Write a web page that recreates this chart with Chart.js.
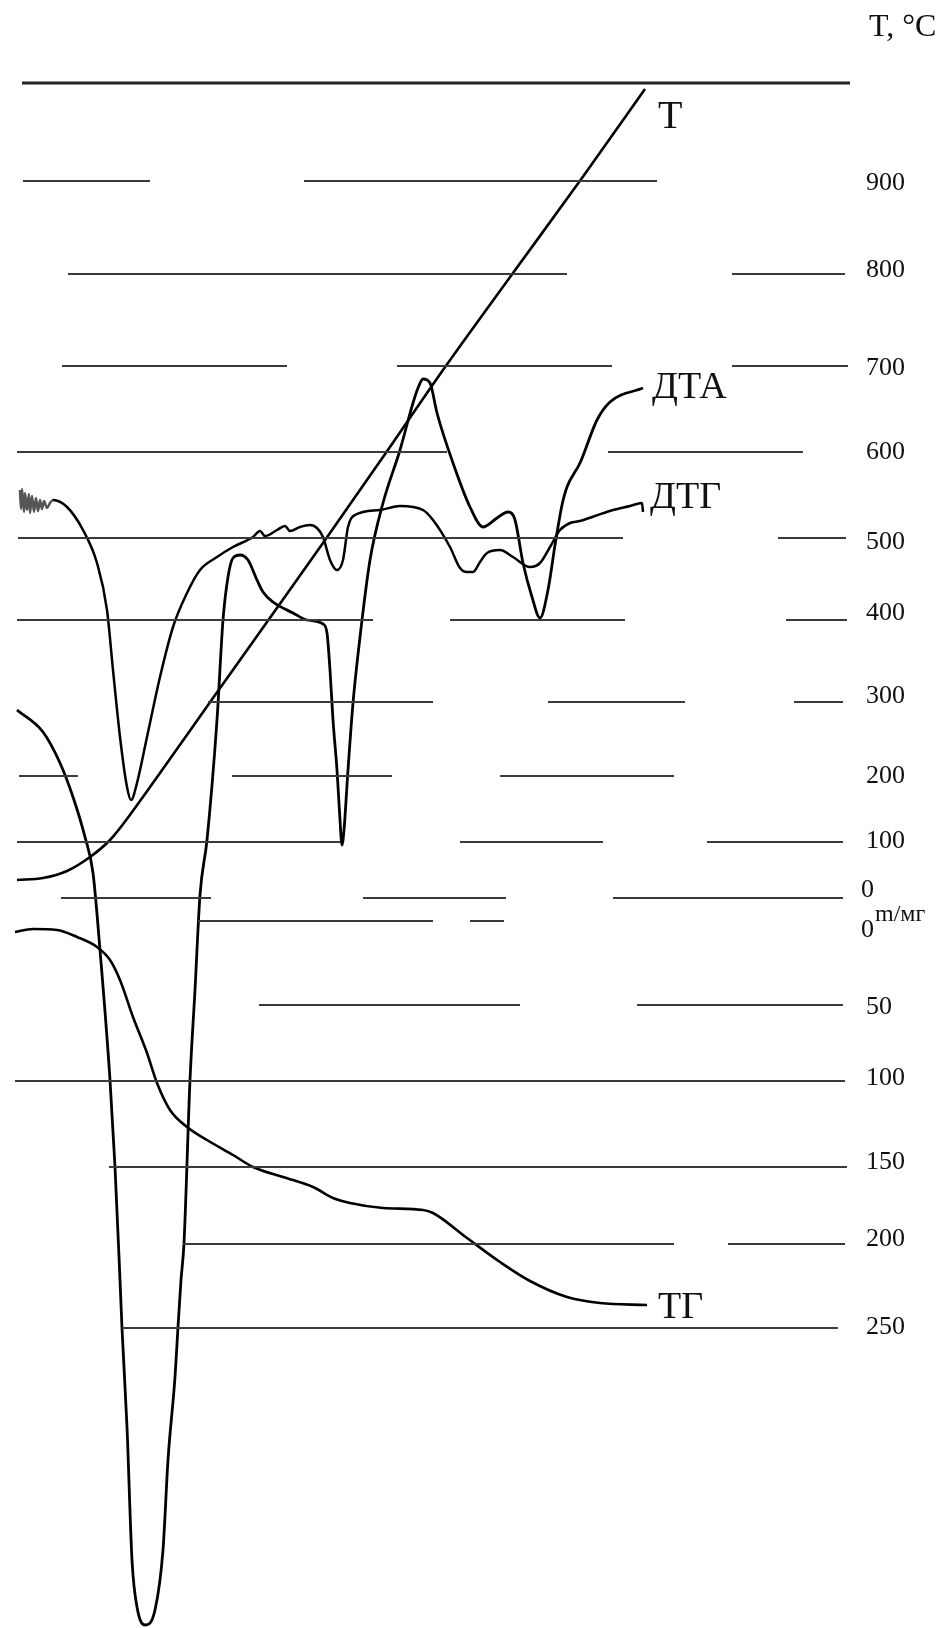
<!DOCTYPE html>
<html>
<head>
<meta charset="utf-8">
<script src="https://cdn.jsdelivr.net/npm/chart.js@4.4.1/dist/chart.umd.min.js"></script>
<style>
    html, body { margin: 0; padding: 0; background: #fff; }
    #wrap { width: 938px; height: 1628px; position: relative; }
</style>
</head>
<body>
<div id="wrap"><canvas id="thermoChart"></canvas></div>
<script>
// chart units: x and y in "cm" of the chart sheet, y measured downward
const tempCurve = [
    [1.7, 88.0], [4.3, 87.8], [6.7, 87.1], [9.0, 85.7], [11.0, 84.0], [13.5, 80.8], [16.0, 77.3],
    [21.3, 69.8], [26.7, 62.2], [32.3, 54.3], [38.3, 45.7], [44.3, 37.0], [51.3, 27.3], [58.2, 17.8], [64.5, 8.9]
]
const dtaCurve = [
    [1.7, 71.0], [4.3, 73.2], [6.0, 76.3], [7.3, 79.7], [8.5, 83.7], [9.3, 87.3], [10.0, 95.0], [11.0, 108.0],
    [11.5, 116.7], [12.0, 128.0], [12.2, 132.8], [12.7, 142.7], [13.2, 156.0], [13.7, 160.7], [14.5, 162.5],
    [15.5, 161.0], [16.3, 155.0], [16.8, 146.0], [17.5, 137.7], [17.8, 132.7], [18.1, 128.0], [18.4, 124.3],
    [19.0, 108.0], [19.5, 99.0], [20.0, 89.5], [20.7, 84.0], [21.7, 72.0], [22.3, 62.0], [22.8, 57.7],
    [23.3, 55.8], [24.0, 55.5], [24.8, 56.0], [25.7, 58.0], [26.3, 59.2], [27.3, 60.2], [29.3, 61.3],
    [30.7, 62.0], [32.3, 62.4], [32.7, 63.3], [33.0, 67.0], [33.3, 72.0], [33.7, 77.0], [34.0, 82.0],
    [34.2, 84.5], [34.4, 83.0], [34.8, 77.0], [35.3, 70.3], [36.0, 63.7], [37.0, 56.0], [38.3, 50.3],
    [40.0, 45.0], [41.3, 40.3], [41.8, 38.8], [42.3, 37.9], [43.0, 38.3], [43.7, 41.3], [45.3, 46.3],
    [47.0, 50.7], [48.3, 52.7], [49.7, 51.8], [50.8, 51.2], [51.5, 52.0], [52.3, 56.3], [53.2, 59.7],
    [54.0, 61.8], [54.8, 59.0], [55.5, 54.5], [55.8, 52.7], [56.2, 50.5], [56.7, 48.7], [58.0, 46.3],
    [59.7, 42.0], [61.0, 40.2], [64.3, 38.8]
]
const dtgCurve = [
    [2.0, 49.0], [2.1, 50.9], [2.2, 48.9], [2.4, 51.2], [2.5, 49.3], [2.7, 51.0], [2.9, 49.4], [3.0, 51.3],
    [3.2, 49.6], [3.4, 51.2], [3.6, 49.8], [3.8, 51.1], [4.0, 50.0], [4.2, 50.9], [4.4, 50.1], [4.7, 50.8],
    [5.0, 50.3], [5.3, 50.0], [6.7, 50.7], [8.3, 53.0], [9.7, 56.3],
    [10.7, 61.0], [11.3, 67.0], [12.0, 73.7], [12.7, 78.7], [13.1, 80.0], [13.7, 78.3], [14.7, 73.7],
    [16.0, 67.7], [17.3, 62.7], [18.7, 59.3], [20.0, 57.0], [21.7, 55.7], [23.3, 54.7], [25.3, 53.7],
    [26.0, 53.1], [26.5, 53.6], [27.7, 53.0], [28.5, 52.6], [29.0, 53.1], [30.0, 52.7], [31.0, 52.5],
    [31.7, 52.8], [32.3, 53.7], [33.0, 56.0], [33.7, 57.0], [34.3, 56.0], [34.8, 52.7], [35.5, 51.5],
    [38.0, 51.0], [40.0, 50.6], [42.3, 51.0], [43.3, 52.0], [45.0, 54.7], [46.0, 56.8], [46.7, 57.2],
    [47.3, 57.2], [48.0, 56.2], [48.7, 55.3], [50.0, 55.0], [51.3, 55.7], [53.0, 56.7], [54.0, 56.3],
    [55.0, 54.7], [56.0, 53.0], [57.0, 52.3], [58.0, 52.1], [59.5, 51.6], [61.3, 51.0], [63.0, 50.6],
    [64.2, 50.3], [64.3, 51.2]
]
const tgCurve = [
    [1.5, 93.2], [3.3, 92.9], [5.7, 93.0], [7.7, 93.7], [9.7, 94.7], [11.0, 96.0], [12.0, 98.0],
    [13.3, 101.7], [14.7, 105.3], [15.7, 108.3], [17.0, 111.0], [18.7, 112.7], [20.7, 114.0],
    [23.3, 115.5], [25.3, 116.7], [28.3, 117.7], [31.3, 118.7], [33.3, 119.8], [35.0, 120.3],
    [38.3, 120.8], [42.3, 121.0], [43.3, 121.3], [46.7, 123.8], [50.0, 126.2], [53.0, 128.1],
    [56.7, 129.7], [60.0, 130.3], [64.7, 130.5]
]
// broken grid rows: level and its segments
const gridLevels = [8.3, 18.1, 27.4, 36.6, 45.2, 53.8, 62.0, 70.2, 77.6, 84.2, 89.8, 92.1, 100.5, 108.1, 116.7, 124.4, 132.8]
const gridSegments = [
    [[2.2, 85.0]],
    [[2.3, 15.0], [30.4, 65.7]],
    [[6.8, 56.7], [73.2, 84.5]],
    [[6.2, 28.7], [39.7, 61.2], [73.2, 84.8]],
    [[1.7, 44.7], [60.8, 80.3]],
    [[1.8, 62.3], [77.8, 84.6]],
    [[1.7, 37.3], [45.0, 62.5], [78.6, 84.7]],
    [[20.8, 43.3], [54.8, 68.5], [79.4, 84.3]],
    [[1.9, 7.8], [23.2, 39.2], [50.0, 67.4]],
    [[1.7, 34.0], [46.0, 60.3], [70.7, 84.3]],
    [[6.1, 21.1], [36.3, 50.6], [61.3, 84.3]],
    [[19.8, 43.3], [47.0, 50.4]],
    [[25.9, 52.0], [63.7, 84.3]],
    [[1.5, 84.5]],
    [[10.9, 84.7]],
    [[18.3, 67.4], [72.8, 84.5]],
    [[12.2, 83.8]]
]
// right-hand scales
const tempTickLabels = [`900`, `800`, `700`, `600`, `500`, `400`, `300`, `200`, `100`, `0`]
const tempTickLevels = [18.3, 27.0, 36.8, 45.2, 54.2, 61.3, 69.6, 77.6, 84.1, 89.0]
const massTickLabels = [`0`, `50`, `100`, `150`, `200`, `250`]
const massTickLevels = [93.0, 100.7, 107.8, 116.2, 123.9, 132.7]
const curveNames = [`T`, `ДТА`, `ДТГ`, `ТГ`]
//
function toPoints(pairs) {
    return pairs.map(p => ({ x: p[0], y: p[1] }))
}
//
function gridPoints(rows) {
    const points = []
    rows.forEach(i => {
        gridSegments[i].forEach(seg => {
            points.push({ x: seg[0], y: gridLevels[i] })
            points.push({ x: seg[1], y: gridLevels[i] })
            points.push({ x: seg[1], y: null })
        })
    })
    return points
}
//
function curveDataset(pairs, width) {
    return {
        data: toPoints(pairs),
        borderColor: `#000`,
        borderWidth: width,
        pointRadius: 0,
        cubicInterpolationMode: `monotone`,
        clip: false
    }
}
//
const textPlugin = {
    id: `thermoText`,
    afterDatasetsDraw(chart) {
        const { ctx, scales: { x, y } } = chart
        const px = v => x.getPixelForValue(v)
        const py = v => y.getPixelForValue(v)
        ctx.save()
        ctx.fillStyle = `#111`
        ctx.textAlign = `left`
        ctx.textBaseline = `middle`
        ctx.font = `26px "Liberation Serif"`
        tempTickLabels.forEach((label, i) => ctx.fillText(label, px(label === `0` ? 86.1 : 86.6), py(tempTickLevels[i])))
        massTickLabels.forEach((label, i) => ctx.fillText(label, px(label === `0` ? 86.1 : 86.6), py(massTickLevels[i])))
        ctx.font = `24px "Liberation Serif"`
        ctx.fillText(`m/мг`, px(87.5), py(91.5))
        ctx.font = `32px "Liberation Serif"`
        ctx.fillText(`T, °C`, px(86.9), py(2.8))
        // curve names
        const namePos = [[65.8, 11.7], [65.2, 38.8], [65.0, 49.8], [65.8, 130.8]]
        curveNames.forEach((name, i) => {
            ctx.font = i === 0 ? `40px "Liberation Serif"` : `38px "Liberation Serif"`
            ctx.fillText(name, px(namePos[i][0]), py(namePos[i][1]))
        })
        ctx.restore()
    }
}
//
new Chart(`thermoChart`, {
    type: `line`,
    data: {
        datasets: [
            { data: gridPoints([0]), borderColor: `#222`, borderWidth: 3, pointRadius: 0, spanGaps: false, clip: false },
            { data: gridPoints(gridLevels.map((v, i) => i).slice(1)), borderColor: `#3a3a3a`, borderWidth: 2, pointRadius: 0, spanGaps: false, clip: false },
            curveDataset(tempCurve, 2.6),
            curveDataset(dtaCurve, 2.8),
            {
                ...curveDataset(dtgCurve, 2.5),
                // the noisy start of the trace is lighter in the scan
                segment: { borderColor: c => c.p1.parsed.x <= 5.3 ? `#555` : `#000` }
            },
            curveDataset(tgCurve, 2.6)
        ]
    },
    options: {
        responsive: true,
        maintainAspectRatio: false,
        animation: false,
        layout: { padding: 0 },
        plugins: { legend: { display: false }, tooltip: { enabled: false } },
        scales: {
            x: { type: `linear`, min: 0, max: 93.8, display: false },
            y: { type: `linear`, min: 0, max: 162.8, reverse: true, display: false }
        }
    },
    plugins: [textPlugin]
})
</script>
</body>
</html>
